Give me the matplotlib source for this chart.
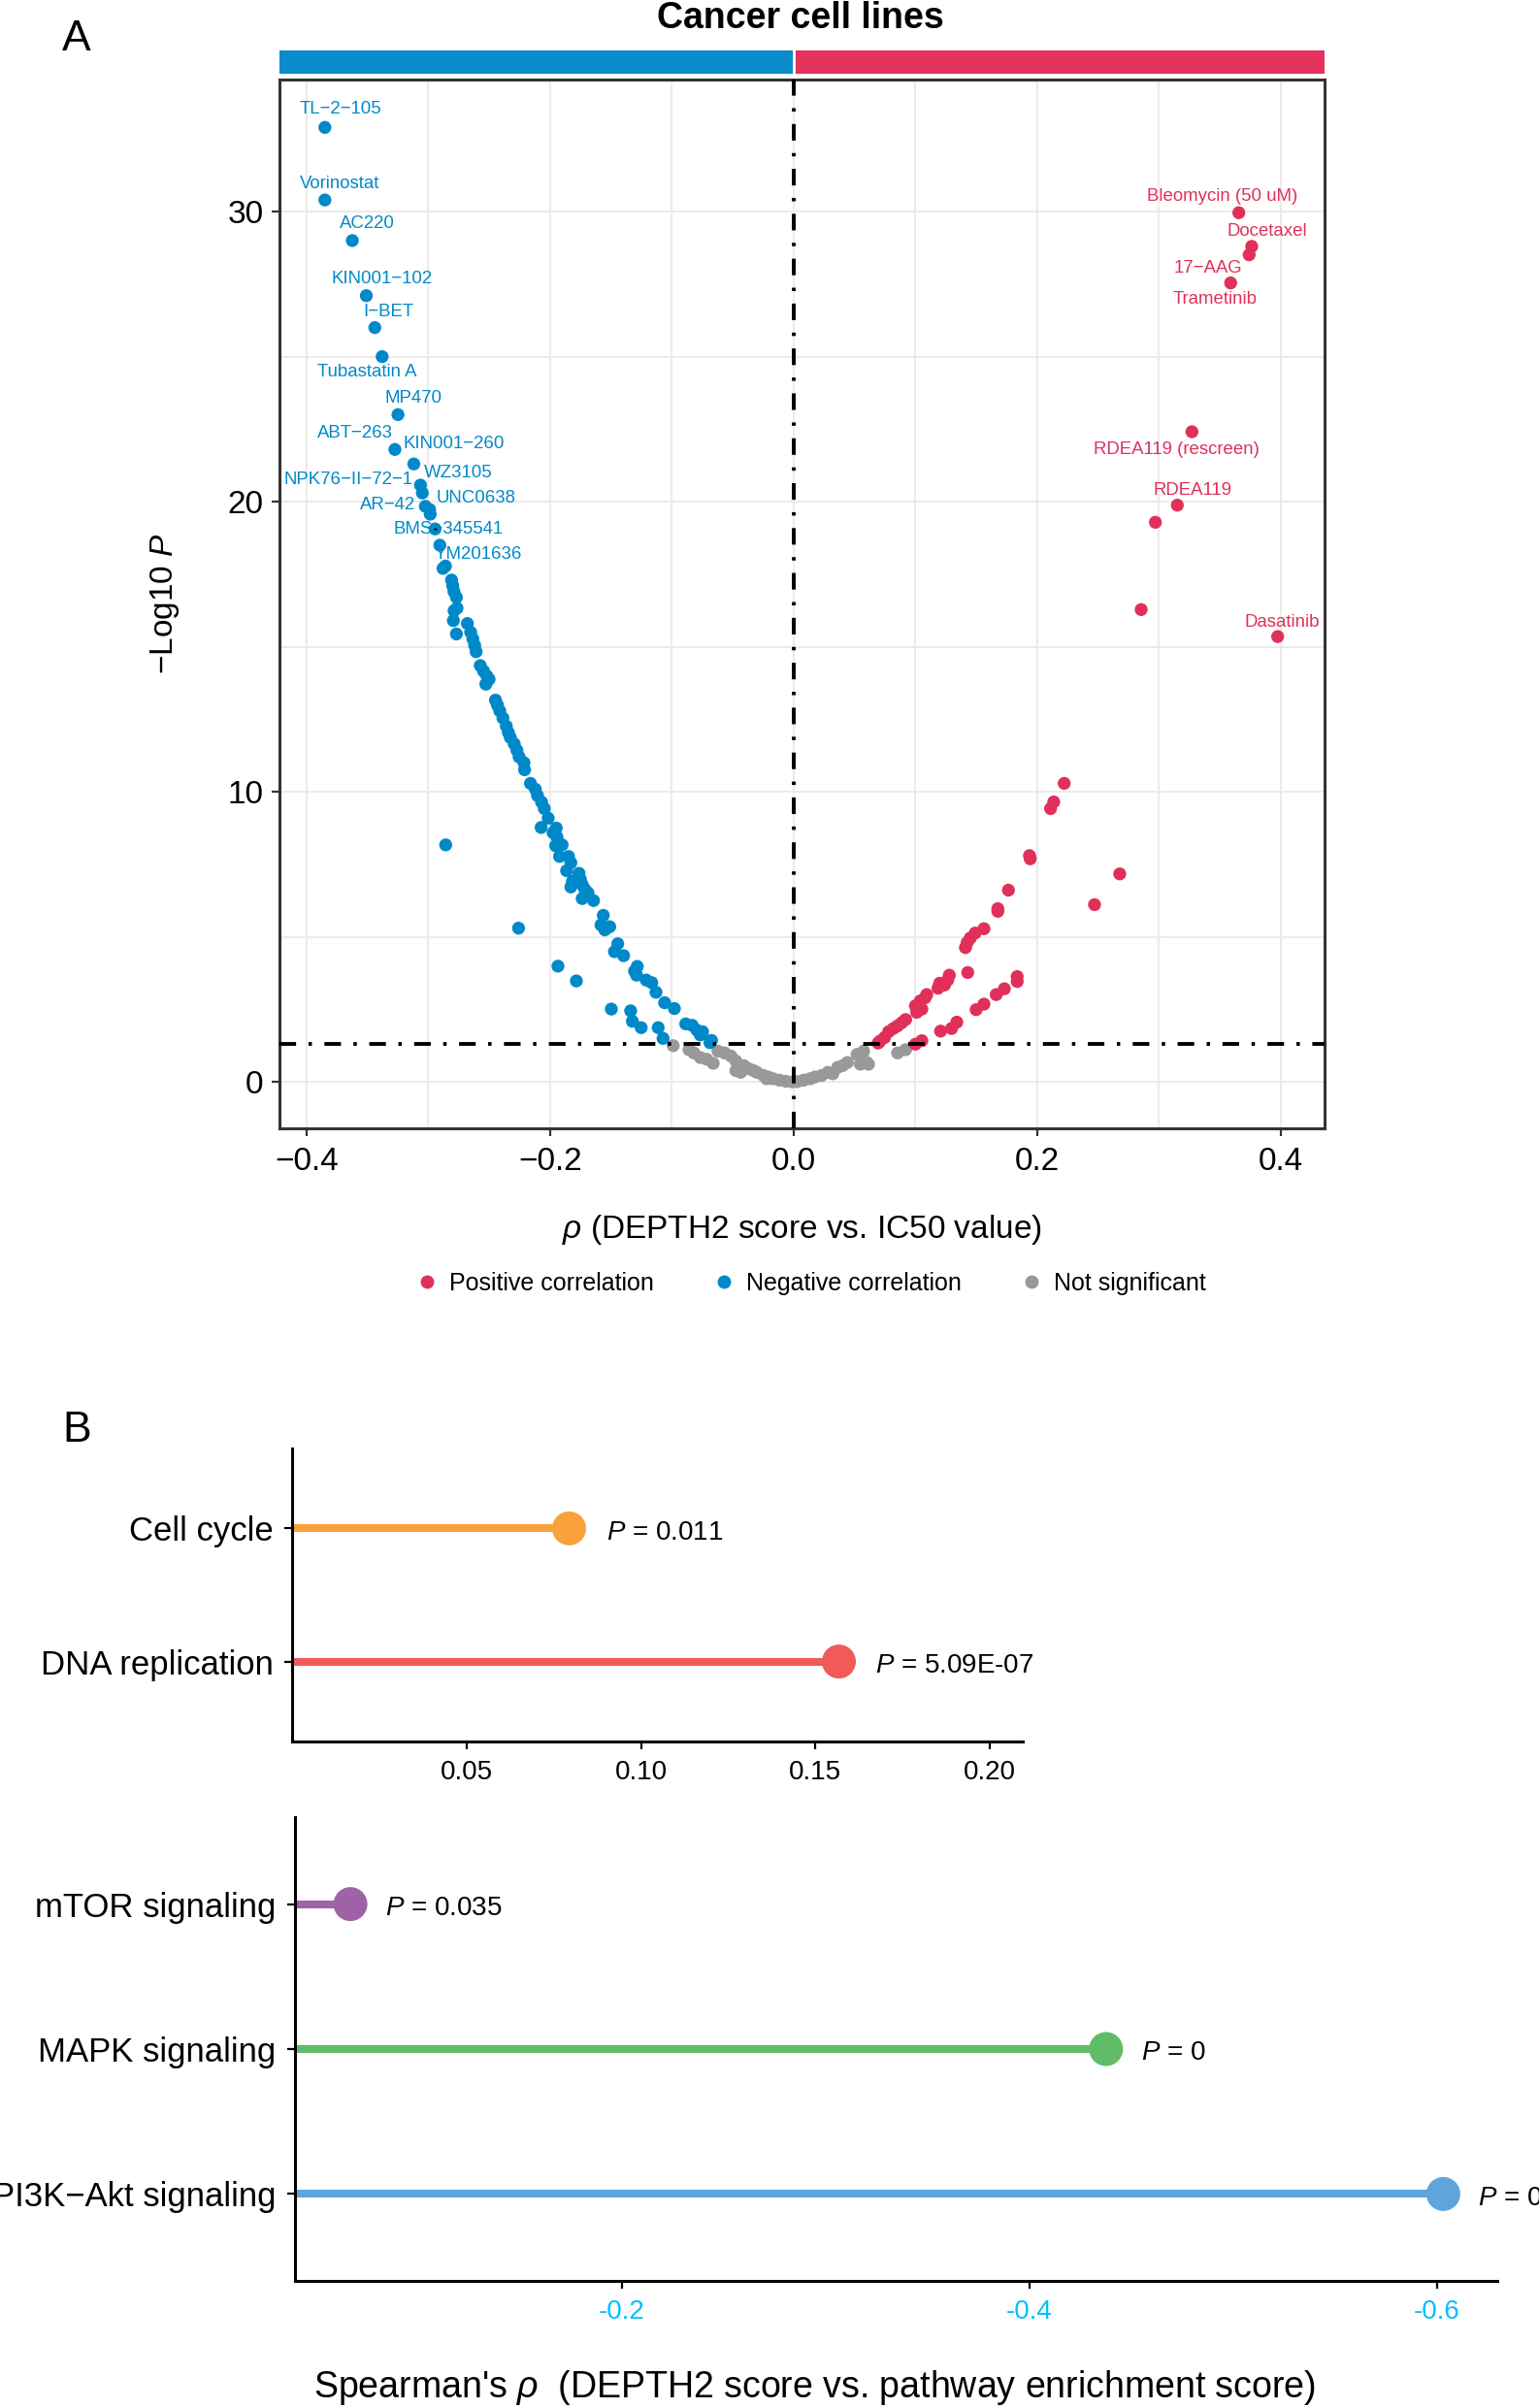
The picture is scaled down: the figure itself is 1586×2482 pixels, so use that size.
import matplotlib
matplotlib.use("Agg")
import matplotlib.pyplot as plt
from matplotlib.lines import Line2D

plt.rcParams['font.family'] = ['Liberation Sans', 'DejaVu Sans']
plt.rcParams['mathtext.fontset'] = 'custom'
plt.rcParams['mathtext.rm'] = 'Liberation Sans'
plt.rcParams['mathtext.it'] = 'Liberation Sans:italic'
plt.rcParams['mathtext.bf'] = 'Liberation Sans:bold'

# ---- panel A data ----
# labelled drugs, negative correlation
neg_lab_names = ["TL\u22122\u2212105", "Vorinostat", "AC220", "KIN001\u2212102", "I\u2212BET",
                 "Tubastatin A", "MP470", "ABT\u2212263", "KIN001\u2212260", "NPK76\u2212II\u221272\u22121",
                 "WZ3105", "AR\u221242", "UNC0638", "YM201636", "BMS\u2212345541"]
neg_lab_rho = [-0.385, -0.385, -0.3625, -0.351, -0.344, -0.338, -0.325, -0.3275, -0.312,
               -0.3065, -0.305, -0.3025, -0.299, -0.2945, -0.2906]
neg_lab_logp = [32.9, 30.4, 29.0, 27.1, 26.0, 25.0, 23.0, 21.8, 21.3,
                20.57, 20.3, 19.84, 19.73, 19.06, 18.5]

# labelled drugs, positive correlation
pos_lab_names = ["Bleomycin (50 uM)", "Docetaxel", "17\u2212AAG", "Trametinib",
                 "RDEA119 (rescreen)", "RDEA119", "Dasatinib"]
pos_lab_rho = [0.3655, 0.3761, 0.374, 0.3588, 0.327, 0.315, 0.3974]
pos_lab_logp = [29.96, 28.80, 28.51, 27.54, 22.41, 19.88, 15.35]

neg_rho = [-0.2985, -0.286, -0.288, -0.281, -0.280, -0.279, -0.277, -0.2765, -0.2789, -0.2795,
           -0.268, -0.2653, -0.277, -0.2635, -0.262, -0.2608,
           -0.2574, -0.2547, -0.252, -0.2502, -0.2528,
           -0.2449, -0.2433, -0.2414, -0.2388,
           -0.236, -0.2343, -0.2327, -0.2295, -0.2273, -0.2255, -0.2215, -0.221,
           -0.2162, -0.2122, -0.2104, -0.207, -0.2048,
           -0.2016, -0.195, -0.2074, -0.1976,
           -0.1944, -0.1955, -0.1902, -0.1923, -0.1849, -0.183, -0.1865, -0.1763, -0.1751,
           -0.1817, -0.183, -0.1737, -0.1716, -0.169, -0.1737, -0.1644,
           -0.2858, -0.226,
           -0.1564, -0.1583, -0.1551, -0.1511,
           -0.1445, -0.1472, -0.1397,
           -0.1936, -0.1785,
           -0.1285, -0.1307, -0.1291, -0.1211, -0.1166, -0.1131,
           -0.1498, -0.1339, -0.1325, -0.1253,
           -0.1113, -0.1073, -0.106, -0.098,
           -0.0887, -0.0834, -0.0794, -0.0767, -0.0749, -0.0675, -0.0688]
neg_logp = [19.57, 17.78, 17.7, 17.3, 17.1, 16.9, 16.7, 16.33, 16.24, 15.9,
            15.8, 15.5, 15.44, 15.27, 15.05, 14.83,
            14.35, 14.16, 13.99, 13.88, 13.71,
            13.16, 12.99, 12.79, 12.54,
            12.26, 12.04, 11.87, 11.65, 11.43, 11.2, 11.0, 10.76,
            10.29, 10.09, 9.87, 9.64, 9.42,
            9.09, 8.75, 8.77, 8.59,
            8.44, 8.14, 8.17, 7.77, 7.77, 7.55, 7.28, 7.19, 6.97,
            6.91, 6.72, 6.80, 6.64, 6.52, 6.32, 6.25,
            8.17, 5.30,
            5.74, 5.41, 5.24, 5.35,
            4.76, 4.49, 4.35,
            3.99, 3.48,
            3.98, 3.82, 3.68, 3.51, 3.42, 3.09,
            2.51, 2.45, 2.09, 1.87,
            1.87, 1.50, 2.73, 2.53,
            2.0, 1.95, 1.78, 1.62, 1.73, 1.43, 1.35]

pos_rho = [0.297, 0.2853, 0.247, 0.2677,
           0.2221, 0.2135, 0.2109, 0.1936, 0.1942, 0.1763, 0.1676, 0.1676,
           0.1562, 0.149, 0.145, 0.1424, 0.141,
           0.1278, 0.1264, 0.1238, 0.1198, 0.1185,
           0.1092, 0.1079, 0.1039, 0.1052, 0.0999, 0.101,
           0.0919, 0.0887, 0.0853, 0.0818, 0.078, 0.0746, 0.0707, 0.0693,
           0.0999, 0.1052, 0.1206, 0.1296, 0.1339, 0.1498, 0.1562, 0.1663, 0.173,
           0.1835, 0.1835, 0.1429]
pos_logp = [19.29, 16.28, 6.11, 7.17,
            10.29, 9.65, 9.42, 7.80, 7.69, 6.61, 5.97, 5.88,
            5.28, 5.13, 4.96, 4.80, 4.63,
            3.68, 3.51, 3.34, 3.40, 3.23,
            3.01, 2.90, 2.79, 2.51, 2.62, 2.40,
            2.15, 2.04, 1.93, 1.84, 1.73, 1.53, 1.40, 1.34,
            1.30, 1.42, 1.75, 1.84, 2.06, 2.49, 2.68, 3.01, 3.21,
            3.46, 3.63, 3.77]

ns_rho = [-0.099, -0.086, -0.082, -0.0767, -0.0714, -0.0661,
          -0.0622, -0.0568, -0.0515, -0.0475, -0.0448, -0.0409, -0.0369, -0.0329, -0.0303,
          -0.0249, -0.021, -0.017, -0.0117, -0.0064, -0.001, 0.003,
          -0.0475, -0.0436, -0.0223,
          0.0082, 0.0135, 0.0175, 0.0229, 0.0281, 0.0321, 0.0361, 0.0401, 0.0441,
          0.052, 0.0547, 0.0574, 0.06, 0.0614, 0.0547,
          0.0853, 0.0919]
ns_logp = [1.25, 1.11, 1.0, 0.84, 0.78, 0.64,
           1.06, 1.0, 0.89, 0.72, 0.50, 0.56, 0.45, 0.39, 0.33,
           0.22, 0.17, 0.11, 0.06, 0.02, 0.0, 0.01,
           0.39, 0.33, 0.11,
           0.06, 0.11, 0.17, 0.22, 0.33, 0.28, 0.50, 0.56, 0.67,
           0.95, 0.84, 1.06, 0.67, 0.61, 0.61,
           1.0, 1.11]

p_cut = 1.3

# ---- panel B data ----
up_paths = ["Cell cycle", "DNA replication"]
up_rho = [0.0794, 0.1567]
up_ptxt = ["0.011", "5.09E-07"]
up_cols = ["#F9A23B", "#F05B59"]

down_paths = ["mTOR signaling", "MAPK signaling", "PI3K\u2212Akt signaling"]
down_rho = [-0.0667, -0.4375, -0.603]
down_ptxt = ["0.035", "0", "0"]
down_cols = ["#A062A7", "#60BC66", "#5FA4DB"]

c_pos = "#E0305A"
c_neg = "#0089C9"
c_ns = "#999999"

# label offsets in pixels (right, down)
neg_off = [(16, -19), (15, -17), (15, -17), (16, -17), (14, -16), (-16, 16), (16, -17),
           (-41, -17), (41, -21), (-74, -6), (37, -21), (-39, -1), (48, -12), (44, 26), (9, -16)]
pos_off = [(-17, -17), (16, -15), (-42, 14), (-16, 17), (-16, 18), (16, -15), (5, -15)]

W, H = 1586, 2482
DPI = 200
fig = plt.figure(figsize=(W / DPI, H / DPI), dpi=DPI)


def box(l, t, r, b):
    return [l / W, 1 - b / H, (r - l) / W, (b - t) / H]


px = 72.0 / DPI  # pixel -> point

# ================= panel A =================
ax = fig.add_axes(box(288, 82, 1365, 1163))
ax.set_xlim(-0.4223, 0.4359)
ax.set_ylim(-1.6, 34.55)

for v in [-0.4, -0.3, -0.2, -0.1, 0.0, 0.1, 0.2, 0.3, 0.4]:
    ax.axvline(v, color="#EBEBEB", lw=0.7, zorder=0)
for v in [0, 5, 10, 15, 20, 25, 30]:
    ax.axhline(v, color="#EBEBEB", lw=0.7, zorder=0)

ax.scatter(ns_rho, ns_logp, s=23, color=c_ns, edgecolors="none", zorder=2)
ax.scatter(neg_rho + neg_lab_rho, neg_logp + neg_lab_logp, s=23, color=c_neg, edgecolors="none", zorder=2)
ax.scatter(pos_rho + pos_lab_rho, pos_logp + pos_lab_logp, s=23, color=c_pos, edgecolors="none", zorder=2)

dd = (0, (4.4, 3.3, 0.9, 3.3))
ax.axhline(p_cut, color="black", lw=1.4, ls=dd, zorder=3)
ax.axvline(0, color="black", lw=1.4, ls=dd, zorder=3)

for name, x, y, (dx, dy) in zip(neg_lab_names, neg_lab_rho, neg_lab_logp, neg_off):
    kw = {}
    if name == "YM201636":
        kw["arrowprops"] = dict(arrowstyle="-", color="black", lw=0.8, shrinkA=8, shrinkB=2)
    ax.annotate(name, (x, y), xytext=(dx * px, -dy * px), textcoords="offset points",
                ha="center", va="center", fontsize=6.7, color=c_neg, zorder=4, **kw)
for name, x, y, (dx, dy) in zip(pos_lab_names, pos_lab_rho, pos_lab_logp, pos_off):
    ax.annotate(name, (x, y), xytext=(dx * px, -dy * px), textcoords="offset points",
                ha="center", va="center", fontsize=6.7, color=c_pos, zorder=4)

ax.set_xticks([-0.4, -0.2, 0.0, 0.2, 0.4])
ax.set_xticklabels(["\u22120.4", "\u22120.2", "0.0", "0.2", "0.4"])
ax.set_yticks([0, 10, 20, 30])
ax.tick_params(labelsize=12, length=3, width=0.8, color="#333333", pad=3)
ax.tick_params(axis="x", pad=4)
for s in ax.spines.values():
    s.set_color("#333333")
    s.set_linewidth(1.1)
ax.set_xlabel(r"$\rho$ (DEPTH2 score vs. IC50 value)", fontsize=12, labelpad=13)
ax.set_ylabel(r"$-$Log10 $P$", fontsize=12, labelpad=17)

# coloured strip above panel A
strip = fig.add_axes(box(288, 52, 1365, 76))
strip.set_xlim(ax.get_xlim())
strip.set_ylim(0, 1)
strip.axvspan(-0.4223, 0, color="#0A8BCB", lw=0)
strip.axvspan(0, 0.4359, color="#E3325B", lw=0)
strip.axvline(0, color="white", lw=1)
strip.axis("off")

fig.text(825 / W, 1 - 19 / H, "Cancer cell lines", ha="center", va="center",
         fontsize=13.5, fontweight="bold")
fig.text(79 / W, 1 - 40 / H, "A", ha="center", va="center", fontsize=16)

handles = [Line2D([], [], ls="none", marker="o", ms=5, mfc=c, mec="none") for c in (c_pos, c_neg, c_ns)]
fig.legend(handles, ["Positive correlation", "Negative correlation", "Not significant"],
           loc="center", bbox_to_anchor=(835 / W, 1 - 1323 / H), ncol=3, frameon=False,
           fontsize=9, handletextpad=0.4, columnspacing=2.4, handlelength=1.0)

# ================= panel B =================
fig.text(79 / W, 1 - 1475 / H, "B", ha="center", va="center", fontsize=16)

b1 = fig.add_axes(box(301, 1493, 1054, 1795))
ypos1 = [2, 1]
b1.hlines(ypos1, 0, up_rho, colors=up_cols, lw=2.9, zorder=2)
b1.scatter(up_rho, ypos1, s=12.6 ** 2, c=up_cols, edgecolors="none", zorder=3)
for x, y, t in zip(up_rho, ypos1, up_ptxt):
    b1.annotate(r"$P$ = " + t, (x, y), xytext=(38 * px, -1.5), textcoords="offset points",
                ha="left", va="center", fontsize=10)
b1.set_xlim(0, 0.2094)
b1.set_ylim(0.4, 2.6)
b1.set_yticks(ypos1)
b1.set_yticklabels(up_paths, fontsize=12.5)
b1.set_xticks([0.05, 0.10, 0.15, 0.20])
b1.set_xticklabels(["0.05", "0.10", "0.15", "0.20"], fontsize=10)

b2 = fig.add_axes(box(304, 1873, 1543, 2351))
ypos2 = [3, 2, 1]
b2.hlines(ypos2, 0, down_rho, colors=down_cols, lw=2.9, zorder=2)
b2.scatter(down_rho, ypos2, s=12.6 ** 2, c=down_cols, edgecolors="none", zorder=3)
for x, y, t in zip(down_rho, ypos2, down_ptxt):
    b2.annotate(r"$P$ = " + t, (x, y), xytext=(36 * px, -1.5), textcoords="offset points",
                ha="left", va="center", fontsize=10, annotation_clip=False)
b2.set_xlim(-0.0395, -0.6295)
b2.set_ylim(0.4, 3.6)
b2.set_yticks(ypos2)
b2.set_yticklabels(down_paths, fontsize=12.5)
b2.set_xticks([-0.2, -0.4, -0.6])
b2.set_xticklabels(["-0.2", "-0.4", "-0.6"], fontsize=10, color="#00BFFF")

for b in (b1, b2):
    b.spines["top"].set_visible(False)
    b.spines["right"].set_visible(False)
    b.spines["left"].set_linewidth(1.1)
    b.spines["bottom"].set_linewidth(1.1)
    b.tick_params(axis="y", length=3, width=0.8, pad=4)
    b.tick_params(axis="x", length=3, width=0.8, pad=4)

fig.text(839 / W, 1 - 2461 / H, r"Spearman's $\rho$  (DEPTH2 score vs. pathway enrichment score)",
         ha="center", va="center", fontsize=13.5)

fig.savefig("out.png", dpi=DPI)
